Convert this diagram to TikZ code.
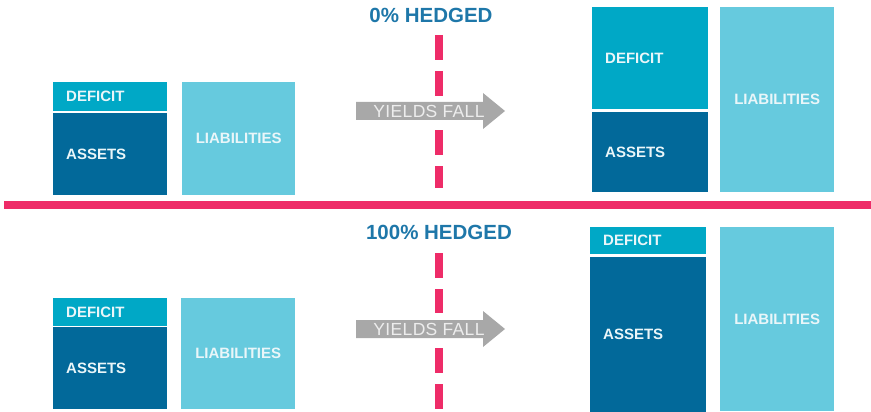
\documentclass[tikz,border=0pt]{standalone}
\usepackage{fontspec}
\setmainfont{Liberation Sans}
\usetikzlibrary{positioning}

\definecolor{deficitblue}{HTML}{00A8C6}
\definecolor{assetblue}{HTML}{02699A}
\definecolor{liabblue}{HTML}{66CADE}
\definecolor{linepink}{HTML}{EE2C68}
\definecolor{arrowgrey}{HTML}{A8A8A8}
\definecolor{headblue}{HTML}{1E77A9}
\definecolor{labelwhite}{HTML}{EAF6F9}

\begin{document}
\begin{tikzpicture}[x=1pt,y=-1pt,
  box/.style={anchor=north west, inner xsep=13pt, inner ysep=0pt, text width=88pt, align=left, text=labelwhite, font=\fontsize{15}{18}\selectfont\bfseries},
  defbox/.style={box, fill=deficitblue},
  assetbox/.style={box, fill=assetblue},
  liabbox/.style={box, fill=liabblue, align=center, inner xsep=0pt, text width=114pt},
  heading/.style={text=headblue, font=\fontsize{20.5}{24}\selectfont\bfseries},
  falltext/.style={text=white!93!black, inner sep=0pt, font=\fontsize{17.5}{20}\selectfont\addfontfeature{LetterSpace=2}},
  cut/.style={linepink, line width=8pt, dash pattern=on 25pt off 11pt}]
\useasboundingbox (0,0) rectangle (871,412);

% 0% hedged
\node[heading] (hed1) at (431,15) {0\% HEDGED};
\node[defbox, minimum height=29pt] (def1) at (53,82) {DEFICIT};
\node[assetbox, minimum height=82pt] (ast1) at (53,113) {ASSETS};
\node[liabbox, text width=113pt, minimum height=113pt] (liab1) at (182,82) {LIABILITIES};
\draw[cut] (439,35) -- (439,97);
\draw[cut] (439,130) -- (439,188);
\fill[arrowgrey] (356,102) -- (483,102) -- (483,93) -- (505,111) -- (483,129) -- (483,120) -- (356,120) -- cycle;
\node[falltext] (fall1) at (429,111) {YIELDS FALL};
\node[defbox, text width=90pt, minimum height=102pt] (def2) at (592,7) {DEFICIT};
\node[assetbox, text width=90pt, minimum height=80pt] (ast2) at (592,112) {ASSETS};
\node[liabbox, minimum height=185pt] (liab2) at (720,7) {LIABILITIES};

\fill[linepink] (4,201) rectangle (871,209);

% 100% hedged
\node[heading] (hed2) at (439,232) {100\% HEDGED};
\node[defbox, minimum height=28pt] (def3) at (53,298) {DEFICIT};
\node[assetbox, minimum height=82pt] (ast3) at (53,327) {ASSETS};
\node[liabbox, minimum height=111pt] (liab3) at (181,298) {LIABILITIES};
\draw[cut] (439,253) -- (439,313);
\draw[cut] (439,348) -- (439,412);
\fill[arrowgrey] (356,320) -- (483,320) -- (483,311) -- (505,329) -- (483,347) -- (483,338) -- (356,338) -- cycle;
\node[falltext] (fall2) at (429,329) {YIELDS FALL};
\node[defbox, text width=90pt, minimum height=27pt] (def4) at (590,227) {DEFICIT};
\node[assetbox, text width=90pt, minimum height=155pt] (ast4) at (590,257) {ASSETS};
\node[liabbox, minimum height=184pt] (liab4) at (720,227) {LIABILITIES};
\end{tikzpicture}
\end{document}
